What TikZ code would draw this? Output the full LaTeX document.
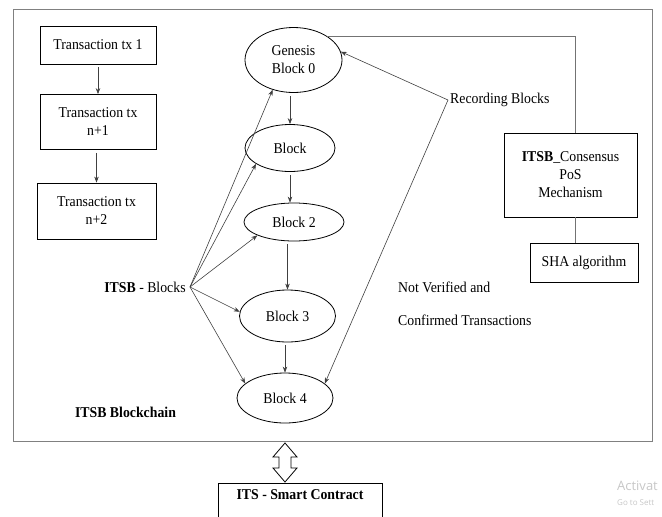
\documentclass[tikz,border=0pt]{standalone}
\usepackage{fontspec}
\setmainfont[FakeStretch=0.92]{Liberation Serif}
\newfontfamily\wmfont{Open Sans}
\usetikzlibrary{shapes.geometric,arrows.meta}
\begin{document}
\begin{tikzpicture}[x=1pt,y=-1pt,
  txt/.style={font=\fontsize{15}{17}\selectfont},
  tbox/.style={draw,thick,txt,align=center,inner sep=0pt},
  blk/.style={draw,thick,ellipse,txt,align=center,inner sep=0pt},
  arr/.style={-{Stealth[length=6pt,width=4.5pt]},black!75,line width=0.6pt},
  thin line/.style={draw,black!55,line width=0.6pt},
]
\useasboundingbox (0,0) rectangle (662,517);
\clip (0,0) rectangle (662,517);
% outer frame
\draw[black!50,line width=0.9pt] (13,9) rectangle (652,441);
% transactions
\node[tbox,minimum width=116pt,minimum height=38pt] (t1) at (98,45) {Transaction tx 1};
\node[tbox,minimum width=116pt,minimum height=55pt] (t2) at (98,122) {Transaction tx\\[1pt] n+1};
\node[tbox,minimum width=119pt,minimum height=56pt] (t3) at (96.5,211) {Transaction tx\\[1pt] n+2};
\draw[arr] ([yshift=-3pt]t1.south) -- (t2.north);
\draw[arr] ([yshift=-3pt]t2.south -| t3.north) -- (t3.north);
% blocks
\node[blk,minimum width=97pt,minimum height=65pt] (b0) at (293.5,60) {Genesis\\[1pt] Block 0};
\node[blk,minimum width=90pt,minimum height=47pt] (b1) at (290,148) {Block};
\node[blk,minimum width=100pt,minimum height=38pt] (b2) at (294,222) {Block 2};
\node[blk,minimum width=96pt,minimum height=52pt] (b3) at (287.5,316) {Block 3};
\node[blk,minimum width=96pt,minimum height=50pt] (b4) at (285,398) {Block 4};
\draw[arr] ([yshift=-3pt]b0.south -| b1.north) -- (b1.north);
\draw[arr] ([yshift=-3pt]b1.south) -- (b1.south |- b2.north);
\draw[arr] ([yshift=-3pt]b2.south -| b3.north) -- (b3.north);
\draw[arr] ([yshift=-3pt]b3.south -| b4.north) -- (b4.north);
% ITSB - Blocks
\node[txt,anchor=center,inner sep=0pt] (ib) at (145,287) {\textbf{ITSB} - Blocks};
\coordinate (ibs) at (190,287);
\draw[arr] (ibs) -- (b0.235);
\draw[arr] (ibs) -- (b1.205);
\draw[arr] (ibs) -- (b2.200);
\draw[arr] (ibs) -- (b3.175);
\draw[arr] (ibs) -- (b4.160);
% Recording blocks
\node[txt,anchor=west,inner sep=0pt] (rb) at (450,100) {Recording Blocks};
\draw[arr] ([xshift=-2pt]rb.west) -- (b0.10);
\draw[arr] ([xshift=-2pt]rb.west) -- (b4.20);
% consensus
\node[tbox,minimum width=133pt,minimum height=84pt] (cs) at (570.5,175) {\textbf{ITSB}\_Consensus\\[1pt] PoS\\[1pt] Mechanism};
\node[tbox,minimum width=108pt,minimum height=39pt] (sha) at (584,262.5) {SHA algorithm};
\coordinate (corner) at (575,44);
\draw[thin line] (b0.35) -- (b0.35 -| corner) -- (cs.north -| corner);
\draw[thin line] (cs.south -| corner) -- (sha.north -| corner);
% not verified
\node[txt,anchor=west,inner sep=0pt] (nv) at (398,287) {Not Verified and};
\node[txt,anchor=west,inner sep=0pt] (ct) at (398,320) {Confirmed Transactions};
% ITSB Blockchain
\node[txt,anchor=center,inner sep=0pt] (bc) at (125.5,412) {\textbf{ITSB Blockchain}};
% smart contract
\node[draw,thick,txt,anchor=north,minimum width=164pt,minimum height=50pt,text depth=28pt] (sc) at (300,483) {\textbf{ITS - Smart Contract}};
% hollow double arrow
\draw[thick,fill=white,line join=miter] (285,443) -- (297,457) -- (291,457) -- (291,468) -- (297,468) -- (285,482) -- (273,468) -- (279,468) -- (279,457) -- (273,457) -- cycle;
% watermark
\node[anchor=west,inner sep=0pt,text=black!22,font=\wmfont\fontsize{13}{14}\selectfont] (wm1) at (617,486) {Activat};
\node[anchor=west,inner sep=0pt,text=black!22,font=\wmfont\fontsize{8}{9}\selectfont] (wm2) at (617,503) {Go to Sett};
\end{tikzpicture}
\end{document}
